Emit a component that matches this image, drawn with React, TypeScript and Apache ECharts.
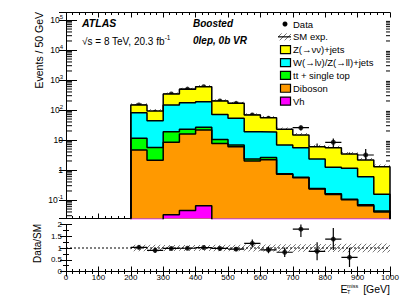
import React, { useEffect, useRef } from 'react';
import * as echarts from 'echarts';

const FONT = 'Liberation Sans';

// ---- data ----
const binStart = [200, 250, 300, 350, 400, 450, 500, 550, 600, 650, 700, 750, 800, 850, 900, 950];
const binWidth = 50;

const vh = [0.012, 0.018, 0.032, 0.045, 0.065, 0.02, 0.015, 0.01, 0.008, 0.005, 0.004, 0.003, 0.002, 0.002, 0.001, 0.001];
const diboson = [4.6, 2.1, 8.4, 15.8, 21.4, 7.7, 6.0, 2.0, 2.2, 0.72, 0.55, 0.23, 0.15, 0.1, 0.063, 0.039];
const topQuark = [6.8, 3.5, 10.5, 6.9, 5.0, 2.7, 0.8, 0.3, 0.4, 0.03, 0.02, 0.01, 0.01, 0.005, 0.005, 0.003];
const wzll = [70, 38, 128, 152, 163, 61, 46, 16.6, 15.9, 6.05, 4.9, 2.1, 1.07, 1.03, 0.53, 0.113];
const znunu = [66, 48.6, 194, 315, 409, 128, 114, 49, 36.5, 15.9, 9.2, 3.65, 4.3, 2.26, 1.55, 1.13];
const sysRel = [0.14, 0.14, 0.13, 0.13, 0.13, 0.14, 0.14, 0.15, 0.15, 0.16, 0.16, 0.17, 0.17, 0.18, 0.18, 0.19];

const dataVals = [147, 84, 341, 500, 598, 200, 167, 68, 53, 18.9, 25.7, 5.3, 8.4, 2.15, 3.16];
const dataErr = [12, 9, 18, 22, 24, 14, 13, 8, 7, 4.3, 5, 2.3, 2.9, 1.7, 1.9];

const ratioVals = [1.03, 0.9, 0.98, 0.99, 1.02, 0.98, 0.95, 1.2, 0.92, 0.82, 1.8, 0.86, 1.38, 0.6];
const ratioErr = [0.08, 0.1, 0.05, 0.05, 0.04, 0.07, 0.08, 0.16, 0.14, 0.2, 0.33, 0.38, 0.47, 0.41];

const yPowers = [-1, 0, 1, 2, 3, 4, 5];
const xTicks = [0, 100, 200, 300, 400, 500, 600, 700, 800, 900, 1000];
const ratioTicks = ['0', '0.5', '1', '1.5', '2'];

const legendItems = [
  { name: 'Data', kind: 'dot', color: '#000' },
  { name: 'SM exp.', kind: 'hatch', color: '' },
  { name: 'Z(→νν)+jets', kind: 'box', color: '#ffff00' },
  { name: 'W(→lν)/Z(→ll)+jets', kind: 'box', color: '#00ffff' },
  { name: 'tt + single top', kind: 'box', color: '#00ff00' },
  { name: 'Diboson', kind: 'box', color: '#ff9900' },
  { name: 'Vh', kind: 'box', color: '#ff00ff' },
];

const Y_MIN = 0.0242;
const Y_MAX = 1.78e5;

function makeHatch() {
  const c = document.createElement('canvas');
  c.width = 5;
  c.height = 5;
  const ctx = c.getContext('2d')!;
  ctx.strokeStyle = '#666';
  ctx.lineWidth = 0.9;
  ctx.beginPath();
  ctx.moveTo(-1, 6); ctx.lineTo(6, -1);
  ctx.moveTo(-1, 1); ctx.lineTo(1, -1);
  ctx.moveTo(4, 6); ctx.lineTo(6, 4);
  ctx.stroke();
  return { image: c, repeat: 'repeat', imageWidth: 5, imageHeight: 5 } as any;
}

export default function App() {
  const ref = useRef<HTMLDivElement>(null);
  useEffect(() => {
    if (!ref.current) return;
    const chart = echarts.init(ref.current, null, { renderer: 'svg' });
    const hatch = makeHatch();
    const n = binStart.length;
    const cum0 = vh.slice();
    const cum1 = cum0.map((v, i) => v + diboson[i]);
    const cum2 = cum1.map((v, i) => v + topQuark[i]);
    const cum3 = cum2.map((v, i) => v + wzll[i]);
    const cum4 = cum3.map((v, i) => v + znunu[i]);
    const xEnd = binStart[n - 1] + binWidth;

    const stepData = (vals: number[]) => {
      const pts: number[][] = [[binStart[0], Y_MIN]];
      vals.forEach((v, i) => pts.push([binStart[i], v]));
      pts.push([xEnd, vals[n - 1]]);
      pts.push([xEnd, Y_MIN]);
      return pts;
    };
    const histSeries = (vals: number[], color: string) => ({
      type: 'line',
      xAxisIndex: 0,
      yAxisIndex: 0,
      data: stepData(vals),
      step: 'end',
      symbol: 'none',
      lineStyle: { color: '#000', width: 1.5 },
      areaStyle: { color, opacity: 1, origin: 'start' },
      silent: true,
      clip: true,
    });

    const minorVals: number[] = [];
    for (let p = -2; p <= 5; p++) {
      for (let k = 2; k <= 9; k++) {
        const v = k * Math.pow(10, p);
        if (v > Y_MIN && v < Y_MAX) minorVals.push(v);
      }
    }

    const bandRender = (params: any, api: any) => {
      const x0 = api.value(0);
      const lo = api.value(1);
      const hi = api.value(2);
      const p1 = api.coord([x0, hi]);
      const p2 = api.coord([x0 + binWidth, lo]);
      return {
        type: 'rect',
        shape: { x: p1[0], y: p1[1], width: p2[0] - p1[0], height: p2[1] - p1[1] },
        style: { fill: hatch, stroke: null },
      };
    };
    const errRender = (params: any, api: any) => {
      const x = api.value(0);
      const v = api.value(1);
      const e = api.value(2);
      const lowV = api.value(3);
      const pc = api.coord([x, v]);
      const pt = api.coord([x, v + e]);
      const pb = api.coord([x, Math.max(v - e, lowV)]);
      const pl = api.coord([x - binWidth / 2, v]);
      const pr = api.coord([x + binWidth / 2, v]);
      const st = { stroke: '#000', lineWidth: 1.2 };
      return {
        type: 'group',
        children: [
          { type: 'line', shape: { x1: pc[0], y1: pt[1], x2: pc[0], y2: pb[1] }, style: st },
          { type: 'line', shape: { x1: pl[0], y1: pc[1], x2: pr[0], y2: pc[1] }, style: st },
        ],
      };
    };
    const minorRender = (params: any, api: any) => {
      const v = api.value(1);
      const pL = api.coord([0, v]);
      const pR = api.coord([1000, v]);
      const st = { stroke: '#000', lineWidth: 1 };
      return {
        type: 'group',
        children: [
          { type: 'line', shape: { x1: pL[0], y1: pL[1], x2: pL[0] + 6, y2: pL[1] }, style: st },
          { type: 'line', shape: { x1: pR[0], y1: pR[1], x2: pR[0] - 4, y2: pR[1] }, style: st },
        ],
      };
    };

    const axisLineStyle = { show: true, lineStyle: { color: '#000', width: 1 } };
    const labelFont = { fontFamily: FONT, fontSize: 8, color: '#000' };

    const xAxisBase = (grid: number, pos: string, labels: boolean) => ({
      type: 'value',
      gridIndex: grid,
      position: pos,
      min: 0,
      max: 1000,
      interval: 100,
      axisLine: axisLineStyle,
      axisTick: { show: true, inside: true, length: 5, lineStyle: { color: '#000' } },
      minorTick: { show: true, splitNumber: 5, length: 2.5, lineStyle: { color: '#000' } },
      splitLine: { show: false },
      minorSplitLine: { show: false },
      axisLabel: labels
        ? {
            show: true,
            margin: 2,
            ...labelFont,
            showMinLabel: true,
            showMaxLabel: true,
            formatter: (v: number) => (xTicks.indexOf(Math.round(v)) >= 0 ? String(Math.round(v)) : ''),
          }
        : { show: false },
    });

    const logLabel = (v: number) => {
      const l = Math.log10(v);
      const p = Math.round(l);
      if (Math.abs(l - p) > 1e-6 || yPowers.indexOf(p) < 0) return '';
      if (p === 0) return '1';
      if (p === 1) return '10';
      return '{b|10}{s|' + p + '}';
    };

    const yLog = (pos: string, labels: boolean, tickLen: number) => ({
      type: 'log',
      logBase: 10,
      gridIndex: 0,
      position: pos,
      min: Y_MIN,
      max: Y_MAX,
      axisLine: axisLineStyle,
      axisTick: { show: true, inside: true, length: tickLen, lineStyle: { color: '#000' } },
      minorTick: { show: false },
      splitLine: { show: false },
      axisLabel: labels
        ? {
            show: true,
            margin: 3,
            showMinLabel: false,
            showMaxLabel: false,
            formatter: logLabel,
            fontFamily: FONT,
            fontSize: 8.5,
            color: '#000',
            rich: {
              b: { fontFamily: FONT, fontSize: 8.5, color: '#000' },
              s: { fontFamily: FONT, fontSize: 6, color: '#000', padding: [0, 0, 7, 0] },
            },
          }
        : { show: false },
    });

    const yRatio = (pos: string, labels: boolean) => ({
      type: 'value',
      gridIndex: 1,
      position: pos,
      min: 0,
      max: 2,
      interval: 0.5,
      axisLine: axisLineStyle,
      axisTick: { show: true, inside: true, length: 6, lineStyle: { color: '#000' } },
      minorTick: { show: true, splitNumber: 2, length: 3, lineStyle: { color: '#000' } },
      splitLine: { show: false },
      minorSplitLine: { show: false },
      axisLabel: labels
        ? {
            show: true,
            margin: 4,
            ...labelFont,
            showMinLabel: true,
            showMaxLabel: true,
            formatter: (v: number) => ratioTicks[Math.round(v * 2)] ?? '',
          }
        : { show: false },
    });

    const mainX = dataVals.map((_, i) => binStart[i] + binWidth / 2);
    const ratioX = ratioVals.map((_, i) => binStart[i] + binWidth / 2);

    const legendY0 = 24;
    const legendDy = 12.85;
    const legendGraphics: any[] = [];
    legendItems.forEach((it, i) => {
      const y = legendY0 + legendDy * i;
      if (it.kind === 'dot') {
        legendGraphics.push({ type: 'circle', shape: { cx: 285, cy: y, r: 2.5 }, style: { fill: '#000' } });
      } else if (it.kind === 'hatch') {
        legendGraphics.push({ type: 'rect', shape: { x: 278, y: y - 3.5, width: 13, height: 7 }, style: { fill: hatch } });
        legendGraphics.push({ type: 'line', shape: { x1: 278, y1: y, x2: 291, y2: y }, style: { stroke: '#000', lineWidth: 1.2 } });
      } else {
        legendGraphics.push({
          type: 'rect',
          shape: { x: 280.5, y: y - 4, width: 10, height: 8 },
          style: { fill: it.color, stroke: '#000', lineWidth: 1.2 },
        });
      }
      legendGraphics.push({
        type: 'text',
        x: 293,
        y,
        style: { text: it.name, fontFamily: FONT, fontSize: 9.5, fill: '#000', align: 'left', verticalAlign: 'middle', textAlign: 'left', textVerticalAlign: 'middle' },
      });
    });

    const txt = (text: string, x: number, y: number, size: number, extra: any = {}) => ({
      type: 'text',
      x,
      y,
      style: {
        text,
        fontFamily: FONT,
        fontSize: size,
        fill: '#000',
        align: 'left',
        verticalAlign: 'middle',
        textAlign: 'left',
        textVerticalAlign: 'middle',
        ...extra,
      },
    });

    const option: any = {
      animation: false,
      backgroundColor: '#fff',
      grid: [
        { left: 66, top: 12.5, width: 324, height: 206, containLabel: false, outerBoundsMode: 'none' },
        { left: 66, top: 224.5, width: 324, height: 47, containLabel: false, outerBoundsMode: 'none' },
      ],
      xAxis: [xAxisBase(0, 'bottom', false), xAxisBase(0, 'top', false), xAxisBase(1, 'bottom', true), xAxisBase(1, 'top', false)],
      yAxis: [yLog('left', true, 11), yLog('right', false, 7), yRatio('left', true), yRatio('right', false)],
      series: [
        histSeries(cum4, '#ffff00'),
        histSeries(cum3, '#00ffff'),
        histSeries(cum2, '#00ff00'),
        histSeries(cum1, '#ff9900'),
        histSeries(cum0, '#ff00ff'),
        {
          type: 'custom',
          xAxisIndex: 0,
          yAxisIndex: 0,
          renderItem: bandRender,
          data: binStart.map((x, i) => [x, cum4[i] * (1 - sysRel[i]), cum4[i] * (1 + sysRel[i])]),
          silent: true,
          clip: true,
        },
        {
          type: 'custom',
          xAxisIndex: 0,
          yAxisIndex: 0,
          renderItem: minorRender,
          data: minorVals.map((v) => [0, v]),
          silent: true,
        },
        {
          type: 'custom',
          xAxisIndex: 0,
          yAxisIndex: 0,
          renderItem: errRender,
          data: dataVals.map((v, i) => [mainX[i], v, dataErr[i], Y_MIN]),
          silent: true,
          clip: true,
        },
        {
          type: 'scatter',
          xAxisIndex: 0,
          yAxisIndex: 0,
          symbol: 'circle',
          symbolSize: 5,
          itemStyle: { color: '#000' },
          data: dataVals.map((v, i) => [mainX[i], v]),
          silent: true,
        },
        {
          type: 'line',
          xAxisIndex: 2,
          yAxisIndex: 2,
          data: [[0, 1], [1000, 1]],
          symbol: 'none',
          lineStyle: { color: '#000', width: 1, type: [2, 2] },
          silent: true,
        },
        {
          type: 'custom',
          xAxisIndex: 2,
          yAxisIndex: 2,
          renderItem: bandRender,
          data: binStart.map((x, i) => [x, 1 - sysRel[i], 1 + sysRel[i]]),
          silent: true,
          clip: true,
        },
        {
          type: 'custom',
          xAxisIndex: 2,
          yAxisIndex: 2,
          renderItem: errRender,
          data: ratioVals.map((v, i) => [ratioX[i], v, ratioErr[i], 0]),
          silent: true,
          clip: true,
        },
        {
          type: 'scatter',
          xAxisIndex: 2,
          yAxisIndex: 2,
          symbol: 'circle',
          symbolSize: 5,
          itemStyle: { color: '#000' },
          data: ratioVals.map((v, i) => [ratioX[i], v]),
          silent: true,
        },
      ],
      graphic: {
        elements: [
          ...legendGraphics,
          txt('ATLAS', 82, 23, 10.5, { fontWeight: 'bold', fontStyle: 'italic' }),
          {
            type: 'text',
            x: 82,
            y: 41.5,
            style: {
              text: '{b|√s = 8 TeV, 20.3 fb}{s|-1}',
              fontFamily: FONT,
              fontSize: 10,
              fill: '#000',
              align: 'left',
              verticalAlign: 'middle',
              textAlign: 'left',
              textVerticalAlign: 'middle',
              rich: {
                b: { fontFamily: FONT, fontSize: 10, fill: '#000', color: '#000' },
                s: { fontFamily: FONT, fontSize: 6.5, fill: '#000', color: '#000', padding: [0, 0, 8, 0] },
              },
            },
          },
          txt('Boosted', 193, 23, 10, { fontWeight: 'bold', fontStyle: 'italic' }),
          txt('0lep, 0b VR', 193, 40, 10, { fontWeight: 'bold', fontStyle: 'italic' }),
          {
            type: 'text',
            x: 39,
            y: 12,
            rotation: Math.PI / 2,
            style: {
              text: 'Events / 50 GeV',
              fontFamily: FONT,
              fontSize: 10.5,
              fill: '#000',
              align: 'right',
              verticalAlign: 'middle',
              textAlign: 'right',
              textVerticalAlign: 'middle',
            },
          },
          {
            type: 'text',
            x: 37,
            y: 224,
            rotation: Math.PI / 2,
            style: {
              text: 'Data/SM',
              fontFamily: FONT,
              fontSize: 10,
              fill: '#000',
              align: 'right',
              verticalAlign: 'middle',
              textAlign: 'right',
              textVerticalAlign: 'middle',
            },
          },
          txt('E', 340.5, 289, 10.5),
          txt('miss', 347, 285.5, 5.5),
          txt('T', 347, 292, 5.5),
          txt('[GeV]', 390, 289, 10.5, { align: 'right', textAlign: 'right' }),
        ],
      },
    };
    chart.setOption(option);
    return () => chart.dispose();
  }, []);
  return <div ref={ref} style={{ position: 'fixed', left: 0, top: 0, width: 411, height: 295, background: '#fff' }} />;
}
